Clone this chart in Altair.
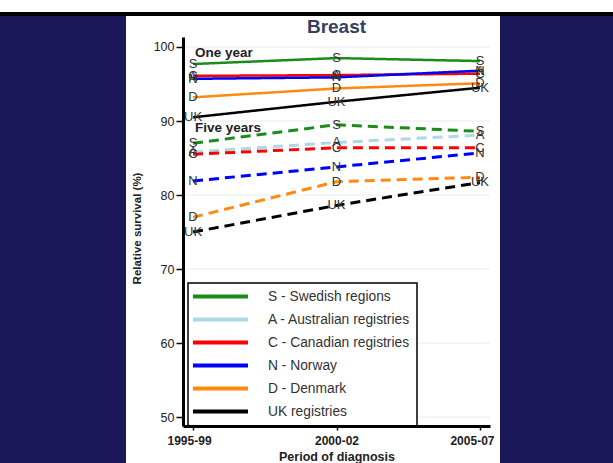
import altair as alt
import pandas as pd

# Periods of diagnosis (x axis)
periods = ["1995-99", "2000-02", "2005-07"]

# Series codes, legend names and colours
codes = ["S", "A", "C", "N", "D", "UK"]
names = [
    "S - Swedish regions",
    "A - Australian registries",
    "C - Canadian registries",
    "N - Norway",
    "D - Denmark",
    "UK registries",
]
colors = ["#1a8c1a", "#add8e6", "#ff0000", "#0000ff", "#ff8a10", "#000000"]

# Relative survival (%) by period, one year after diagnosis
one_year = {
    "S": [97.7, 98.5, 98.1],
    "A": [95.9, 96.1, 96.7],
    "C": [96.1, 96.2, 96.4],
    "N": [95.7, 95.9, 96.8],
    "D": [93.2, 94.4, 95.1],
    "UK": [90.5, 92.6, 94.5],
}

# Relative survival (%) by period, five years after diagnosis
five_years = {
    "S": [87.0, 89.5, 88.6],
    "A": [85.8, 87.1, 88.1],
    "C": [85.5, 86.4, 86.4],
    "N": [81.9, 83.8, 85.7],
    "D": [77.0, 81.8, 82.4],
    "UK": [75.0, 78.6, 81.7],
}

horizons = ["One year", "Five years"]
y_ticks = [50, 60, 70, 80, 90, 100]
annot_text = ["One year", "Five years"]
annot_y = [99.2, 89.05]
chart_title = "Breast"

W, H = 307, 389
FONT = "Liberation Sans"
NAVY = "#1a1858"

rows = []
for horizon, table in zip(horizons, [one_year, five_years]):
    for code, name in zip(codes, names):
        for period, v in zip(periods, table[code]):
            rows.append({"code": code, "name": name, "horizon": horizon,
                         "period": period, "value": v, "order": codes.index(code)})
df = pd.DataFrame(rows)

x_scale = alt.Scale(type="point", domain=periods, padding=0.07)
y_scale = alt.Scale(domain=[48.8, 101.35], nice=False, zero=False)
y_axis = alt.Axis(
    title="Relative survival (%)", values=y_ticks, grid=False, zindex=1,
    titleX=-46, titleY=191, titleAngle=270, titleAlign="center",
    titleBaseline="middle",
)
# end labels are nudged inwards so they stay on the white panel
x_axis = alt.Axis(
    title="Period of diagnosis", labelAngle=0, grid=False, zindex=1,
    labelOffset={"condition": [
        {"test": f"datum.value == '{periods[0]}'", "value": -4},
        {"test": f"datum.value == '{periods[-1]}'", "value": -8},
    ], "value": 0},
)

dummy = pd.DataFrame({"k": [0]})

# Page furniture: navy backdrop, black rule along the top, white panel
navy = alt.Chart(dummy).mark_rect(color=NAVY).encode(
    x=alt.value(-183), x2=alt.value(430), y=alt.value(-21), y2=alt.value(426))
topline = alt.Chart(dummy).mark_rect(color="#000000").encode(
    x=alt.value(-183), x2=alt.value(430), y=alt.value(-25), y2=alt.value(-21))
panel = alt.Chart(dummy).mark_rect(color="#ffffff").encode(
    x=alt.value(-57), x2=alt.value(317), y=alt.value(-21), y2=alt.value(426))

# Panel heading, centred over the plot area
heading = alt.Chart(dummy).mark_text(
    text=chart_title, font=FONT, fontSize=19, fontWeight="bold", color="#35405e",
    align="center", baseline="alphabetic").encode(
    x=alt.value(W / 2), y=alt.value(-4))

grid = alt.Chart(pd.DataFrame({"tick": y_ticks})).mark_rule(
    color="#e4ecee", strokeWidth=1).encode(
    y=alt.Y("tick:Q", scale=y_scale, axis=y_axis),
    x=alt.value(0), x2=alt.value(W))

lines = alt.Chart(df).mark_line().encode(
    x=alt.X("period:N", scale=x_scale, axis=x_axis, sort=periods),
    y=alt.Y("value:Q", scale=y_scale, axis=y_axis),
    color=alt.Color("name:N", scale=alt.Scale(domain=names, range=colors),
                    legend=alt.Legend(title=None, orient="none", legendX=5, legendY=246,
                                      labelExpr="datum.label + '\u00a0\u00a0\u00a0\u00a0'")),
    strokeDash=alt.StrokeDash("horizon:N", scale=alt.Scale(domain=horizons, range=[[1, 0], [10, 6]]),
                              legend=None),
    strokeWidth=alt.StrokeWidth("horizon:N", scale=alt.Scale(domain=horizons, range=[2.5, 3]),
                                legend=None),
    order="order:Q",
)

letters = alt.Chart(df).mark_text(
    font=FONT, fontSize=13, color="#333333", baseline="middle", align="center").encode(
    x=alt.X("period:N", scale=x_scale, axis=x_axis, sort=periods),
    y=alt.Y("value:Q", scale=y_scale, axis=y_axis),
    text="code:N",
)

annots = alt.Chart(pd.DataFrame({"label": annot_text, "y": annot_y, "period": [periods[0]] * 2})).mark_text(
    font=FONT, fontSize=13.5, fontWeight="bold", color="#222222",
    align="left", baseline="middle", dx=2).encode(
    x=alt.X("period:N", scale=x_scale, axis=x_axis, sort=periods),
    y=alt.Y("y:Q", scale=y_scale, axis=y_axis),
    text="label:N",
)

chart = alt.layer(navy, topline, panel, heading, grid, lines, letters, annots).properties(
    width=W, height=H,
    autosize=alt.AutoSizeParams(type="none"),
    padding={"left": 183, "top": 37, "right": 123, "bottom": 37},
    background="#ffffff",
).configure_view(stroke=None).configure_axis(
    domainColor="#000000", domainWidth=3,
    tickColor="#000000", tickWidth=1.5,
    labelFont=FONT, labelColor="#222222",
    titleFont=FONT, titleColor="#222222", titleFontWeight="bold",
).configure_axisY(
    tickSize=7, labelFontSize=12.5, labelPadding=2, titleFontSize=11.5,
).configure_axisX(
    tickSize=4, labelFontSize=12, labelFontWeight="bold", labelPadding=5,
    titleFontSize=12.5, titlePadding=4,
).configure_legend(
    fillColor="#ffffff", strokeColor="#000000", strokeWidth=1.5, padding=6,
    symbolType="M-5,0H5", symbolSize=121, symbolStrokeWidth=4, symbolOffset=19,
    labelFont=FONT, labelFontSize=13.8, labelColor="#333333", labelOffset=40,
    rowPadding=6, labelLimit=300,
)

chart.save("out.html", embed_options={"renderer": "svg", "actions": False})
